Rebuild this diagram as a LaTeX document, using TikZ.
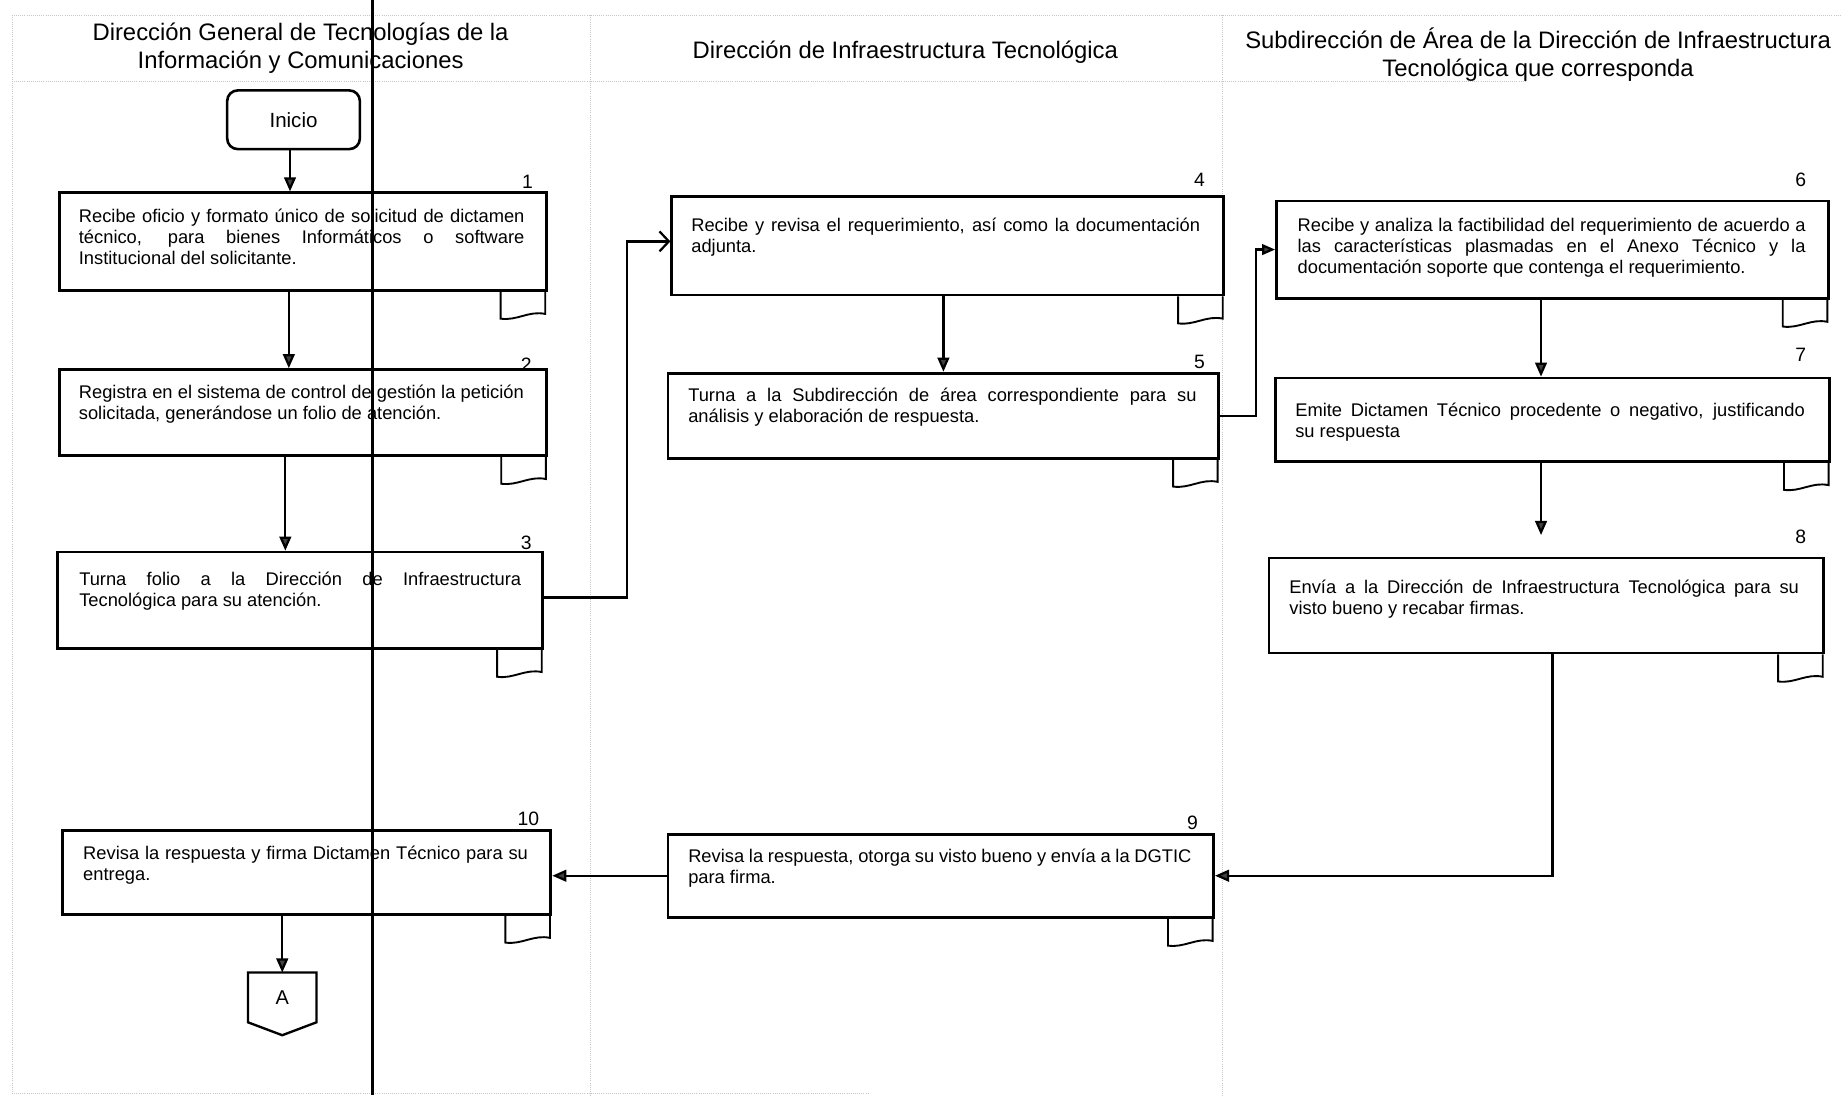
\documentclass[tikz,border=0pt]{standalone}
\usepackage{fontspec}
\setmainfont{Liberation Sans}
\usetikzlibrary{arrows.meta}
\hyphenpenalty=10000
\exhyphenpenalty=10000
\tolerance=9999

\tikzset{
  caja/.style={draw=black, line width=2.4pt, inner sep=0pt, anchor=north west},
  texto/.style={inner sep=0pt, anchor=north west, align=justify,
                font=\fontsize{15.6}{18}\selectfont},
  numero/.style={inner sep=0pt, anchor=base east, font=\fontsize{16.5}{18}\selectfont},
  titulo/.style={inner sep=0pt, align=center, font=\fontsize{20.3}{23.5}\selectfont},
  hojalinea/.style={draw=black, line width=1.6pt},
  flecha/.style={draw=black, line width=1.9pt,
                 -{Triangle[length=12pt,width=10pt,fill=black!75]}},
  flechachica/.style={draw=black, line width=1.9pt,
                 -{Triangle[length=11pt,width=9pt,fill=black!75]}},
  abierta/.style={draw=black, line width=1.9pt,
                 -{Straight Barb[length=8pt,width=17pt,line width=1.9pt]}},
  carril/.style={draw=black!22, line width=0.8pt, densely dotted},
}

% little document sheet hanging under an activity box
\newcommand\hoja[1]{%
  \coordinate (#1-hi) at ([xshift=-40pt]#1.south east);
  \coordinate (#1-hd) at ([xshift=-2pt]#1.south east);
  \draw[hojalinea] (#1-hi) -- ([yshift=-23pt]#1-hi)
    .. controls ([xshift=14pt,yshift=-25pt]#1-hi) and ([xshift=-14pt,yshift=-16pt]#1-hd)
    .. ([yshift=-19pt]#1-hd) -- (#1-hd);
}

\begin{document}
\begin{tikzpicture}[x=1pt,y=-1pt]
\useasboundingbox (0,0) rectangle (1568,933);
\fill[white] (0,0) rectangle (1568,933);

% swimlane frame
\draw[carril] (10,13) -- (1568,13);
\draw[carril] (10,69) -- (1300,69);
\draw[carril] (10.5,13) -- (10.5,931);
\draw[carril] (503,13) -- (503,933);
\draw[carril] (1041.5,13) -- (1041.5,933);
\draw[carril] (10,931) -- (740,931);

% lane headings
\node[titulo] (h1) at (256,41.5) {\strut Dirección General de Tecnologías de la\\\strut Información y Comunicaciones};
\node[titulo] (h2) at (771,44.9) {\strut Dirección de Infraestructura Tecnológica};
\node[titulo] (h3) at (1310,48) {\strut Subdirección de Área de la Dirección de Infraestructura\\\strut Tecnológica que corresponda};

% start
\node[draw=black, line width=2.2pt, rounded corners=9pt, minimum width=113pt,
      minimum height=50pt, inner sep=0pt, font=\fontsize{17.5}{20}\selectfont]
      (inicio) at (250,102) {Inicio};

% activity boxes
\node[caja, minimum width=414.5pt, minimum height=83pt] (c1) at (49.5,163) {};
\node[caja, minimum width=415pt, minimum height=73pt] (c2) at (49.5,313.6) {};
\node[caja, minimum width=413.2pt, minimum height=82pt] (c3) at (47.8,469) {};
\node[caja, minimum width=470pt, minimum height=84pt] (c4) at (571,166) {};
\node[caja, minimum width=469pt, minimum height=72.4pt] (c5) at (567.7,316.6) {};
\node[caja, minimum width=470pt, minimum height=82.7pt] (c6) at (1086,170) {};
\node[caja, minimum width=472.2pt, minimum height=71pt] (c7) at (1084.8,320.8) {};
\node[caja, minimum width=472.4pt, minimum height=81pt] (c8) at (1079.6,474) {};
\node[caja, minimum width=464.6pt, minimum height=70.7pt] (c9) at (567.8,709.3) {};
\node[caja, minimum width=416pt, minimum height=71.4pt] (c10) at (52,706) {};

% activity texts
\node[texto, text width=379.5pt] (t1) at (67,176.4) {\strut Recibe oficio y formato único de solicitud de dictamen\linebreak técnico, para bienes Informáticos o software\linebreak Institucional del solicitante.};
\node[texto, text width=379pt] (t2) at (67,326.4) {\strut Registra en el sistema de control de gestión la petición\linebreak solicitada, generándose un folio de atención.};
\node[texto, text width=376.4pt] (t3) at (67.3,486) {\strut Turna folio a la Dirección de Infraestructura\linebreak Tecnológica para su atención.};
\node[texto, text width=433.4pt] (t4) at (588.6,184) {\strut Recibe y revisa el requerimiento, así como la documentación\linebreak adjunta.};
\node[texto, text width=433pt] (t5) at (586,329.4) {\strut Turna a la Subdirección de área correspondiente para su\linebreak análisis y elaboración de respuesta.};
\node[texto, text width=432.6pt] (t6) at (1105,184) {\strut Recibe y analiza la factibilidad del requerimiento de acuerdo a\linebreak las características plasmadas en el Anexo Técnico y la\linebreak documentación soporte que contenga el requerimiento.};
\node[texto, text width=434pt] (t7) at (1103,342) {\strut Emite Dictamen Técnico procedente o negativo, justificando\linebreak su respuesta};
\node[texto, text width=434pt] (t8) at (1098,492.7) {\strut Envía a la Dirección de Infraestructura Tecnológica para su\linebreak visto bueno y recabar firmas.};
\node[texto, text width=428.6pt] (t9) at (586,722) {\strut Revisa la respuesta, otorga su visto bueno y envía a la DGTIC\linebreak para firma.};
\node[texto, text width=378.8pt] (t10) at (70.7,719.4) {\strut Revisa la respuesta y firma Dictamen Técnico para su\linebreak entrega.};

% step numbers
\node[numero] (n1) at (454,160.5) {1};
\node[numero] (n2) at (453,316) {2};
\node[numero] (n3) at (453,468) {3};
\node[numero] (n4) at (1026.5,158.5) {4};
\node[numero] (n5) at (1026.5,313.5) {5};
\node[numero] (n6) at (1538.5,158.5) {6};
\node[numero] (n7) at (1538.5,308) {7};
\node[numero] (n8) at (1538.5,462.5) {8};
\node[numero] (n9) at (1020.5,706.5) {9};
\node[numero] (n10) at (459.5,703.3) {10};

% document sheets
\hoja{c1}\hoja{c2}\hoja{c3}\hoja{c4}\hoja{c5}
\hoja{c6}\hoja{c7}\hoja{c8}\hoja{c9}\hoja{c10}

% off-page connector
\node[minimum width=58pt, minimum height=42pt, inner sep=0pt,
      font=\fontsize{17}{20}\selectfont] (A) at (240.4,849.5) {A};
\draw[line width=2pt, line join=miter] (A.north west) -- (A.north east) -- (A.south east)
  -- ([yshift=-11pt]A.south) -- (A.south west) -- cycle;

% flow columns
\coordinate (x1) at (246,0);
\coordinate (x2) at (243,0);
\coordinate (x4) at (803.5,0);
\coordinate (x6) at (1312.5,0);
\coordinate (f8) at (1312.5,455.7);

% connectors
\draw[flecha] ([xshift=-3pt]inicio.south) -- ([xshift=-3pt]inicio.south |- c1.north);
\draw[flecha] (c1.south -| x1) -- (c2.north -| x1);
\draw[flecha] (c2.south -| x2) -- (c3.north -| x2);
\draw[abierta] ([yshift=2.4pt]c3.east) -- ++(70.5,0) |- ([yshift=3.6pt]c4.west);
\draw[flecha] (c4.south -| x4) -- (c5.north -| x4);
\draw[flechachica] (c5.east) -- ++(30.4,0) |- (c6.west);
\draw[flecha] (c6.south -| x6) -- (c7.north -| x6);
\draw[flecha] (c7.south -| x6) -- (f8);
\draw[flecha] ([xshift=5.2pt]c8.south) |- (c9.east);
\draw[flecha] (c9.west) -- (c9.west -| c10.east);
\draw[flecha] (c10.south -| A.north) -- (A.north);

% heavy rule across the first lane
\draw[line width=2.4pt] (317,0) -- (317,933);
\end{tikzpicture}
\end{document}
